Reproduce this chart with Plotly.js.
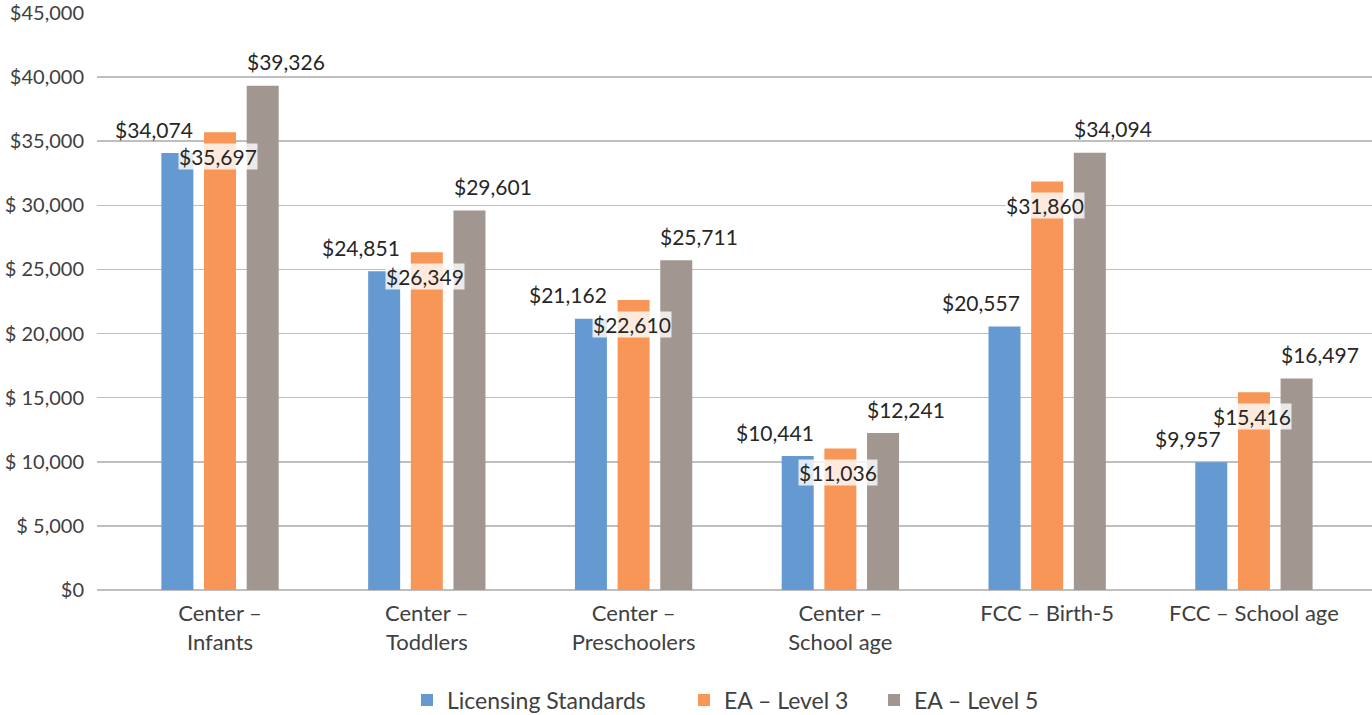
<!DOCTYPE html>
<html>
<head>
<meta charset="utf-8">
<script src="https://cdn.plot.ly/plotly-3.0.1.min.js"></script>
<style>html,body{margin:0;padding:0;background:#fff;}#chart{width:1372px;height:715px;}</style>
</head>
<body>
<div id="chart"></div>
<script>
const categories = ["Center –<br>Infants", "Center –<br>Toddlers", "Center –<br>Preschoolers", "Center –<br>School age", "FCC – Birth-5", "FCC – School age"];
const seriesNames = ["Licensing Standards", "EA – Level 3", "EA – Level 5"];
const licensing = [34074, 24851, 21162, 10441, 20557, 9957];
const eaLevel3 = [35697, 26349, 22610, 11036, 31860, 15416];
const eaLevel5 = [39326, 29601, 25711, 12241, 34094, 16497];
const tickVals = [0, 5000, 10000, 15000, 20000, 25000, 30000, 35000, 40000, 45000];
const tickText = ["$0", "$ 5,000", "$ 10,000", "$ 15,000", "$ 20,000", "$ 25,000", "$ 30,000", "$35,000", "$40,000", "$45,000"];

const colors = ["#6499d2", "#f79656", "#a19690"];
const FONT = "Lato, 'Open Sans', sans-serif";
const series = [licensing, eaLevel3, eaLevel5];
const fmt = v => "$" + v.toLocaleString("en-US");
const legendIds = ["legend", "legend2", "legend3"];
const legendX = [407, 684, 874];

const traces = series.map((vals, i) => ({
  type: "bar",
  name: seriesNames[i],
  x: categories,
  y: vals,
  marker: {color: colors[i]},
  legend: legendIds[i],
  hoverinfo: "skip"
}));

const labelFont = {family: FONT, size: 21, color: "#262626"};
const annotations = [];
categories.forEach((c, ci) => {
  annotations.push({x: c, y: licensing[ci], text: fmt(licensing[ci]), showarrow: false,
    xshift: -23 - 42.7, yshift: 24, font: labelFont});
  annotations.push({x: c, y: eaLevel3[ci], text: fmt(eaLevel3[ci]), showarrow: false,
    xshift: -2, yshift: -24, bgcolor: "rgba(255,255,255,0.8)", borderpad: 0, font: labelFont});
  annotations.push({x: c, y: eaLevel5[ci], text: fmt(eaLevel5[ci]), showarrow: false,
    xshift: 23 + 42.7, yshift: 24, font: labelFont});
});

const mkLegend = (px) => ({
  orientation: "h", x: px / 1372, xanchor: "left", xref: "container",
  y: 0.021, yanchor: "middle", yref: "container",
  font: {family: FONT, size: 23, color: "#404040"},
  itemwidth: 30, bgcolor: "rgba(0,0,0,0)"
});

const layout = {
  width: 1372, height: 715,
  margin: {l: 97, r: 0, t: 13, b: 125, autoexpand: false},
  paper_bgcolor: "#fff", plot_bgcolor: "#fff",
  barmode: "group",
  bargap: 0.381,
  bargroupgap: 0.25,
  font: {family: FONT, size: 20, color: "#404040"},
  xaxis: {
    type: "category",
    range: [-0.595, 5.571],
    showgrid: false, zeroline: false, showline: false,
    ticks: "", ticklabelstandoff: 8,
    tickfont: {family: FONT, size: 22, color: "#404040"}
  },
  yaxis: {
    range: [0, 45000],
    tickvals: tickVals, ticktext: tickText,
    showgrid: true, gridcolor: "#bfbfbf", gridwidth: 1.5,
    zeroline: true, zerolinecolor: "#bfbfbf", zerolinewidth: 1.5,
    showline: false, ticks: "", ticklabelstandoff: 12,
    tickfont: {family: FONT, size: 20, color: "#404040"}
  },
  legend: mkLegend(legendX[0]),
  legend2: mkLegend(legendX[1]),
  legend3: mkLegend(legendX[2]),
  showlegend: true,
  annotations: annotations
};

Plotly.newPlot("chart", traces, layout, {displayModeBar: false, staticPlot: true});
</script>
</body>
</html>
